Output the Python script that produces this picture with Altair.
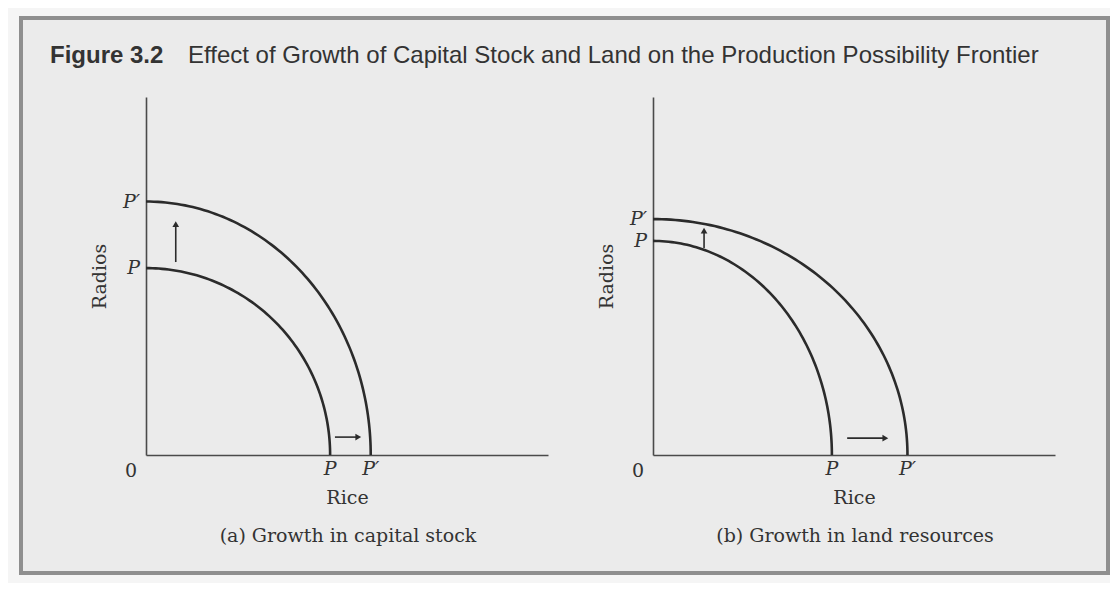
import numpy as np
import pandas as pd
import altair as alt

# ---- data ----
labels = ["P", "P\u2032"]
# panel (a): growth in capital stock
rice_a = [4.58, 5.59]
radios_a = [5.22, 7.08]
# panel (b): growth in land resources
rice_b = [4.45, 6.33]
radios_b = [5.98, 6.59]

# arrows: x0, y0, x1, y1 (tail -> head)
arrow_up_a = [0.74, 5.39, 0.74, 6.45]
arrow_right_a = [4.70, 0.50, 5.28, 0.50]
arrow_up_b = [1.27, 5.78, 1.27, 6.27]
arrow_right_b = [4.83, 0.47, 5.78, 0.47]

captions = ["(a) Growth in capital stock", "(b) Growth in land resources"]
title_bold = "Figure 3.2"
title_text = "Effect of Growth of Capital Stock and Land on the Production Possibility Frontier"
x_title = "Rice"
y_title = "Radios"

W, H = 402, 358
GAP = 105
INK = "#2b2b2b"
AXIS = "#4a4a4a"
TXT = "#333333"
SERIF = "DejaVu Serif"
SANS = "Liberation Sans"
INSIDE = "#ebebeb"
OUTSIDE = "#f5f5f5"
FRAME = "#8f8f8f"

xs = alt.Scale(domain=[0, 10], nice=False, zero=True)
ys = alt.Scale(domain=[0, 10], nice=False, zero=True)


def X(field):
    return alt.X(field, scale=xs, title=x_title)


def Y(field):
    return alt.Y(field, scale=ys, title=y_title)


def panel(rice, radios, up, right, caption):
    t = np.linspace(0, np.pi / 2, 91)
    rows = []
    for lab, a, b in zip(labels, rice, radios):
        for i, tt in enumerate(t):
            rows.append({"curve": lab, "i": i,
                         "rice": a * np.cos(tt), "radios": b * np.sin(tt)})
    curves = pd.DataFrame(rows)

    lines = alt.Chart(curves).mark_line(color=INK, strokeWidth=2.6).encode(
        x=X("rice:Q"), y=Y("radios:Q"), detail="curve:N", order="i:Q")

    ylab = pd.DataFrame({"label": labels, "v": radios, "z": [0, 0]})
    xlab = pd.DataFrame({"label": labels, "v": rice, "z": [0, 0]})
    ytext = alt.Chart(ylab).mark_text(
        align="right", baseline="middle", dx=-6, font=SERIF,
        fontStyle="italic", fontSize=19, color=TXT).encode(
        x=X("z:Q"), y=Y("v:Q"), text="label:N")
    xtext = alt.Chart(xlab).mark_text(
        align="center", baseline="middle", dy=14, font=SERIF,
        fontStyle="italic", fontSize=19, color=TXT).encode(
        x=X("v:Q"), y=Y("z:Q"), text="label:N")
    zero = alt.Chart(pd.DataFrame({"v": [0], "t": ["0"]})).mark_text(
        align="center", baseline="middle", dx=-15, dy=16, font=SERIF,
        fontSize=19, color=TXT).encode(
        x=X("v:Q"), y=Y("v:Q"), text="t:N")

    arr = pd.DataFrame({
        "x0": [up[0], right[0]], "y0": [up[1], right[1]],
        "x1": [up[2], right[2]], "y1": [up[3], right[3]],
        "shape": ["triangle-up", "triangle-right"],
    })
    shafts = alt.Chart(arr).mark_rule(color=INK, strokeWidth=1.6).encode(
        x=X("x0:Q"), y=Y("y0:Q"), x2="x1:Q", y2="y1:Q")
    heads = alt.Chart(arr).mark_point(filled=True, color=INK, size=45,
                                      opacity=1).encode(
        x=X("x1:Q"), y=Y("y1:Q"),
        shape=alt.Shape("shape:N", scale=None))

    cap = alt.Chart(pd.DataFrame({"t": [caption]})).mark_text(
        align="center", baseline="alphabetic", font=SERIF, fontSize=19,
        color=TXT).encode(
        x=alt.value(W / 2 + 1), y=alt.value(H + 87), text="t:N")

    return alt.layer(lines, ytext, xtext, zero, shafts, heads,
                     cap).properties(width=W, height=H)


# a hairline-wide first panel that carries the figure frame and heading,
# drawn before (beneath) the two diagrams
off = GAP + 1
frame = alt.Chart(pd.DataFrame({"k": [0]})).mark_rect(
    fill=INSIDE, stroke=FRAME, strokeWidth=4).encode(
    x=alt.value(-125 + off), x2=alt.value(962 + off),
    y=alt.value(-79), y2=alt.value(476))
t1 = alt.Chart(pd.DataFrame({"t": [title_bold]})).mark_text(
    align="left", baseline="alphabetic", font=SANS, fontWeight="bold",
    fontSize=24, color=TXT).encode(
    x=alt.value(-96 + off), y=alt.value(-34), text="t:N")
t2 = alt.Chart(pd.DataFrame({"t": [title_text]})).mark_text(
    align="left", baseline="alphabetic", font=SANS,
    fontSize=24, color=TXT).encode(
    x=alt.value(42 + off), y=alt.value(-34), text="t:N")
head = alt.layer(frame, t1, t2).properties(width=1, height=H)

left = panel(rice_a, radios_a, arrow_up_a, arrow_right_a, captions[0])
right = panel(rice_b, radios_b, arrow_up_b, arrow_right_b, captions[1])

chart = alt.hconcat(head, left, right, spacing=GAP, bounds="flush").properties(
    padding={"left": 11, "top": 8, "right": 0, "bottom": 8},
    background=OUTSIDE,
).configure_view(stroke=None).configure_axis(
    labels=False, ticks=False, grid=False, domainColor=AXIS,
    domainWidth=1.6, titleFont=SERIF, titleFontSize=19,
    titleFontWeight="normal", titleColor=TXT,
).configure_axisX(titlePadding=33).configure_axisY(titlePadding=37)

chart.save("out.html", embed_options={"renderer": "svg", "actions": False})
